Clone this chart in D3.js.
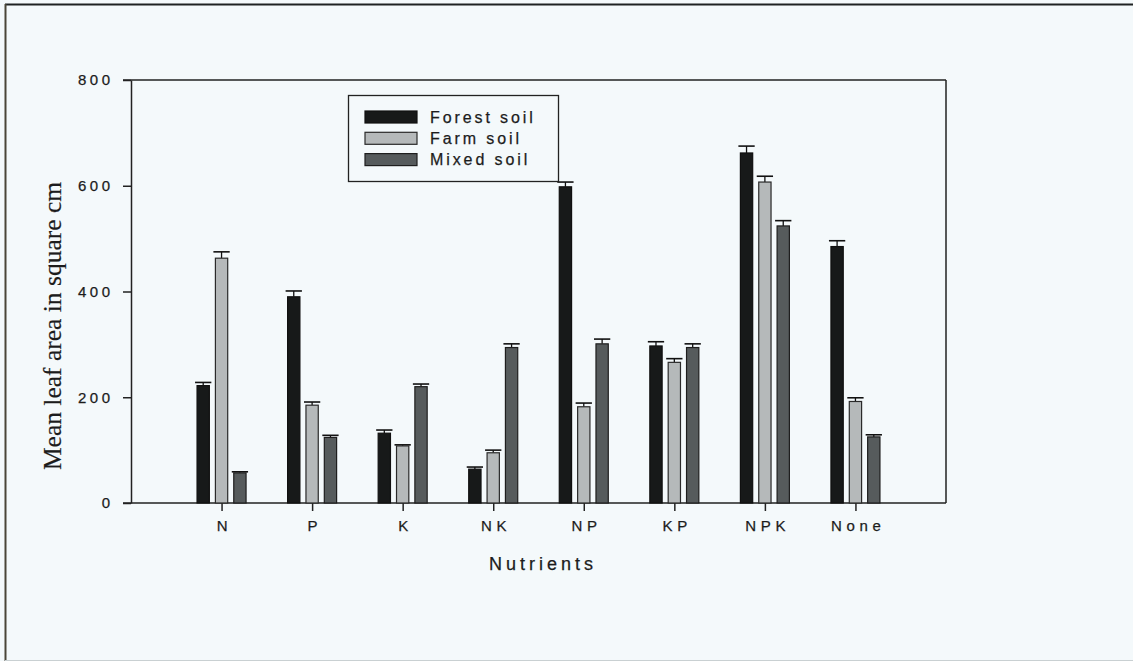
<!DOCTYPE html>
<html>
<head>
<meta charset="utf-8">
<script src="https://cdn.jsdelivr.net/npm/d3@7"></script>
<style>
  html, body { margin: 0; padding: 0; background: #f4f9fb; }
  svg { display: block; }
</style>
</head>
<body>
<svg id="chart" width="1133" height="661"></svg>
<script>
// ---- data ----
const categories = ["N", "P", "K", "NK", "NP", "KP", "NPK", "None"];
const seriesNames = ["Forest soil", "Farm soil", "Mixed soil"];
const forestSoil = [222, 390, 132, 64, 598, 297, 662, 485];
const farmSoil   = [463, 185, 108, 95, 182, 266, 607, 192];
const mixedSoil  = [57, 124, 220, 294, 301, 294, 524, 125];
const forestErr  = [6, 11, 6, 4, 9, 8, 13, 11];
const farmErr    = [12, 6, 2, 5, 7, 7, 11, 7];
const mixedErr   = [2, 4, 5, 7, 9, 7, 10, 4];
const yTicks = [0, 200, 400, 600, 800];
const xTitle = "Nutrients";
const yTitle = "Mean leaf area in square cm";

(function () {
const seriesValues = [forestSoil, farmSoil, mixedSoil];
const seriesErrors = [forestErr, farmErr, mixedErr];
const fills = ["#171919", "#b5b9ba", "#565b5c"];
const strokes = ["#101010", "#2a2a2a", "#1e1e1e"];

const svg = d3.select("#chart");

// outer scanned-page frame
svg.append("line").attr("x1", 5).attr("x2", 1133).attr("y1", 4.5).attr("y2", 4.5)
  .attr("stroke", "#1f2222").attr("stroke-width", 2);
svg.append("line").attr("x1", 5.5).attr("x2", 5.5).attr("y1", 4).attr("y2", 661)
  .attr("stroke", "#4a4638").attr("stroke-width", 2);
svg.append("line").attr("x1", 5).attr("x2", 1133).attr("y1", 660.5).attr("y2", 660.5)
  .attr("stroke", "#c9d0d2").attr("stroke-width", 1);

const pLeft = 131, pRight = 946, pTop = 80, pBottom = 503;

const x = d3.scalePoint().domain(categories).range([pLeft, pRight]).padding(1);
const xs = d3.scaleBand().domain(seriesNames).range([-24.5, 24.5]).paddingInner(0.33).paddingOuter(0);
const y = d3.scaleLinear().domain([0, 800]).range([pBottom, pTop]);

const sans = "'Liberation Sans', Arial, sans-serif";
const ink = "#1c1c1c";

// plot frame (top & right)
svg.append("line").attr("x1", pLeft - 8).attr("x2", pRight).attr("y1", pTop).attr("y2", pTop)
  .attr("stroke", "#222").attr("stroke-width", 1.5);
svg.append("line").attr("x1", pRight).attr("x2", pRight).attr("y1", pTop).attr("y2", pBottom)
  .attr("stroke", "#222").attr("stroke-width", 1.5);

// y axis
const yAxis = svg.append("g").attr("transform", `translate(${pLeft},0)`)
  .call(d3.axisLeft(y).tickValues(yTicks).tickSize(8).tickSizeOuter(0).tickPadding(13));
yAxis.select(".domain").attr("stroke", "#222").attr("stroke-width", 1.5);
yAxis.selectAll(".tick line").attr("stroke", "#222").attr("stroke-width", 1.5);
yAxis.selectAll(".tick text")
  .attr("font-family", sans).attr("font-size", 15).attr("fill", ink)
  .attr("stroke", ink).attr("stroke-width", 0.25)
  .attr("letter-spacing", "3.5px").attr("dx", "3.5px");

// x axis
const xAxis = svg.append("g").attr("transform", `translate(0,${pBottom})`)
  .call(d3.axisBottom(x).tickSize(8).tickSizeOuter(0).tickPadding(9));
xAxis.select(".domain").remove();
xAxis.selectAll(".tick line").attr("stroke", "#222").attr("stroke-width", 1.5);
xAxis.selectAll(".tick text")
  .attr("font-family", sans).attr("font-size", 15).attr("fill", ink)
  .attr("stroke", ink).attr("stroke-width", 0.25)
  .attr("letter-spacing", "4.6px").attr("dx", "2.3px");
svg.append("line").attr("x1", pLeft - 8).attr("x2", pRight).attr("y1", pBottom).attr("y2", pBottom)
  .attr("stroke", "#222").attr("stroke-width", 1.5);

// bars and error bars
seriesNames.forEach((name, si) => {
  const g = svg.append("g");
  const vals = seriesValues[si], errs = seriesErrors[si];
  const bw = xs.bandwidth();
  categories.forEach((c, ci) => {
    const x0 = x(c) + xs(name);
    const v = vals[ci], e = errs[ci];
    const cx = x0 + bw / 2;
    g.append("line").attr("x1", cx).attr("x2", cx).attr("y1", y(v)).attr("y2", y(v + e))
      .attr("stroke", "#111").attr("stroke-width", 1.3);
    g.append("line").attr("x1", cx - bw / 2 - 2).attr("x2", cx + bw / 2 + 2)
      .attr("y1", y(v + e)).attr("y2", y(v + e))
      .attr("stroke", "#111").attr("stroke-width", 1.6);
    g.append("rect").attr("x", x0).attr("y", y(v)).attr("width", bw).attr("height", y(0) - y(v))
      .attr("fill", fills[si]).attr("stroke", strokes[si]).attr("stroke-width", 1.2);
  });
});

// axis titles
svg.append("text").attr("x", 543).attr("y", 570).attr("text-anchor", "middle")
  .attr("font-family", sans).attr("font-size", 18).attr("letter-spacing", "4px")
  .attr("fill", ink).attr("stroke", ink).attr("stroke-width", 0.25).text(xTitle);
svg.append("text").attr("transform", "translate(61,326) rotate(-90)").attr("text-anchor", "middle")
  .attr("font-family", "'Liberation Serif', 'Times New Roman', serif").attr("font-size", 25.5)
  .attr("fill", ink).attr("stroke", ink).attr("stroke-width", 0.2).text(yTitle);

// legend
const lg = svg.append("g");
lg.append("rect").attr("x", 348.5).attr("y", 95.5).attr("width", 210).attr("height", 86)
  .attr("fill", "none").attr("stroke", "#222").attr("stroke-width", 1.3);
seriesNames.forEach((name, i) => {
  const yy = 111 + i * 21.3;
  lg.append("rect").attr("x", 365).attr("y", yy).attr("width", 52).attr("height", 12)
    .attr("fill", fills[i]).attr("stroke", strokes[i]).attr("stroke-width", 1.2);
  lg.append("text").attr("x", 430).attr("y", yy + 11.8)
    .attr("font-family", sans).attr("font-size", 16).attr("letter-spacing", "2.9px")
    .attr("fill", ink).attr("stroke", ink).attr("stroke-width", 0.25).text(name);
});
})();
</script>
</body>
</html>
